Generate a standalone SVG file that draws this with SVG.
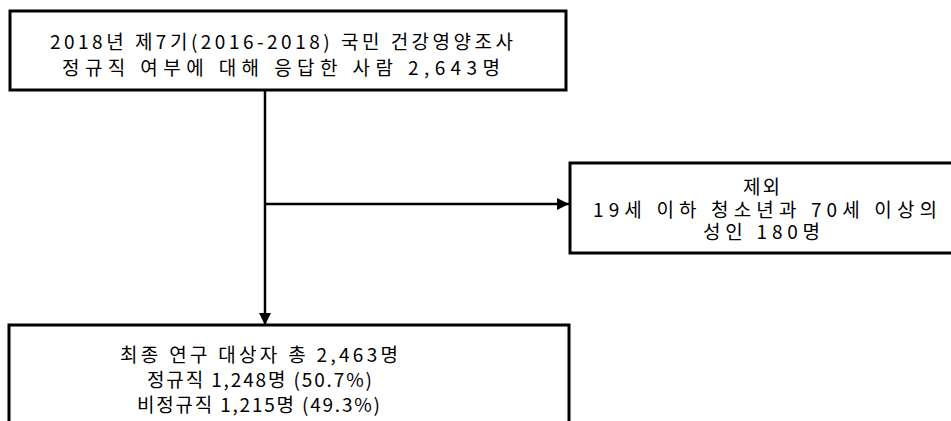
<svg xmlns="http://www.w3.org/2000/svg" width="951" height="421" viewBox="0 0 951 421">
<style>
.box{fill:#fff;stroke:#000;stroke-width:3}
.t{font-family:"Noto Sans CJK KR","Noto Sans",sans-serif;font-size:19px;fill:#000}
.c{stroke:#000;stroke-width:2.5;fill:none}
</style>
<defs>
<marker id="ah" viewBox="0 0 10 10" refX="10" refY="5" markerWidth="5" markerHeight="5" markerUnits="strokeWidth" orient="auto">
<path d="M0,0L10,5L0,10z" fill="#000"/>
</marker>
</defs>
<g id="connectors">
<line class="c" x1="265" y1="90" x2="265" y2="325" marker-end="url(#ah)"/>
<line class="c" x1="265" y1="204" x2="569" y2="204" marker-end="url(#ah)"/>
</g>
<g id="n1">
<rect class="box" x="10" y="11" width="556" height="79"/>
<text class="t" x="50" y="49" textLength="463" lengthAdjust="spacing">2018년 제7기(2016-2018) 국민 건강영양조사</text>
<text class="t" x="62" y="75" textLength="438" lengthAdjust="spacing">정규직 여부에 대해 응답한 사람 2,643명</text>
</g>
<g id="n2">
<rect class="box" x="570" y="163" width="400" height="90"/>
<text class="t" x="743" y="194" textLength="37" lengthAdjust="spacing">제외</text>
<text class="t" x="593" y="217" textLength="344" lengthAdjust="spacing">19세 이하 청소년과 70세 이상의</text>
<text class="t" x="703" y="239" textLength="117" lengthAdjust="spacing">성인 180명</text>
</g>
<g id="n3">
<rect class="box" x="9" y="325" width="560" height="110"/>
<text class="t" x="120" y="362" textLength="278" lengthAdjust="spacing">최종 연구 대상자 총 2,463명</text>
<text class="t" x="147" y="387" textLength="225" lengthAdjust="spacing">정규직 1,248명 (50.7%)</text>
<text class="t" x="137" y="412" textLength="243" lengthAdjust="spacing">비정규직 1,215명 (49.3%)</text>
</g>
</svg>
